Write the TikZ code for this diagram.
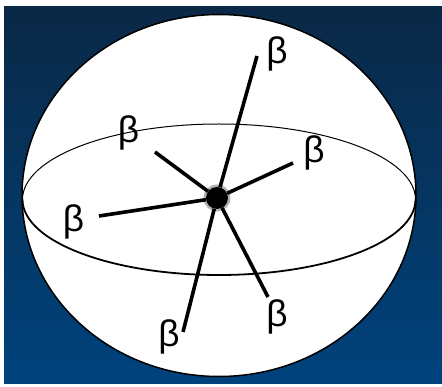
\documentclass[tikz,border=0pt]{standalone}
\usepackage{xcolor}
\usepackage{fontspec}
\setmainfont{Liberation Sans}
\usepackage{tikz}
\usetikzlibrary{calc}

\definecolor{navytop}{HTML}{0A2846}
\definecolor{navymid}{HTML}{004B8B}
\definecolor{navybot}{HTML}{00437D}

\begin{document}
\begin{tikzpicture}[x=1pt, y=-1pt,
    ray/.style={line width=3.6pt, black},
    lbl/.style={inner sep=0pt, font=\fontsize{37}{37}\selectfont}]
    \useasboundingbox (0,0) rectangle (442,387);
    \fill[white] (0,0) rectangle (442,387);
    \shade[top color=navytop, middle color=navymid, bottom color=navybot] (4,7) rectangle (442,384);
    \filldraw[fill=white, draw=black, line width=1.5pt] (219,195.5) ellipse (197 and 181);
    \draw[line width=1pt] (22.5,199.5) arc (180:360:196.5 and 75.5);
    \draw[line width=1.8pt] (22.5,199.5) arc (180:0:196.5 and 75.5);
    \fill[black!30] (217,198) circle (13.5);
    \node[circle, fill=black, minimum size=22pt, inner sep=0pt] (c) at (217,198) {};
    \coordinate (tipN) at (257,56);
    \coordinate (tipNW) at (155,152);
    \coordinate (tipE) at (293,163);
    \coordinate (tipW) at (99,216);
    \coordinate (tipS) at (183,332);
    \coordinate (tipSE) at (268,297);
    \draw[ray] (c) -- (tipN);
    \draw[ray] (c) -- (tipNW);
    \draw[ray] (c) -- (tipE);
    \draw[ray] (c) -- (tipW);
    \draw[ray] (c) -- (tipS);
    \draw[ray] (c) -- (tipSE);
    \node[lbl] (betaN) at (277,54) {β};
    \node[lbl] (betaNW) at (128.5,133) {β};
    \node[lbl] (betaE) at (314,153) {β};
    \node[lbl] (betaW) at (73.5,222) {β};
    \node[lbl] (betaS) at (169,337) {β};
    \node[lbl] (betaSE) at (277,317) {β};
\end{tikzpicture}
\end{document}
